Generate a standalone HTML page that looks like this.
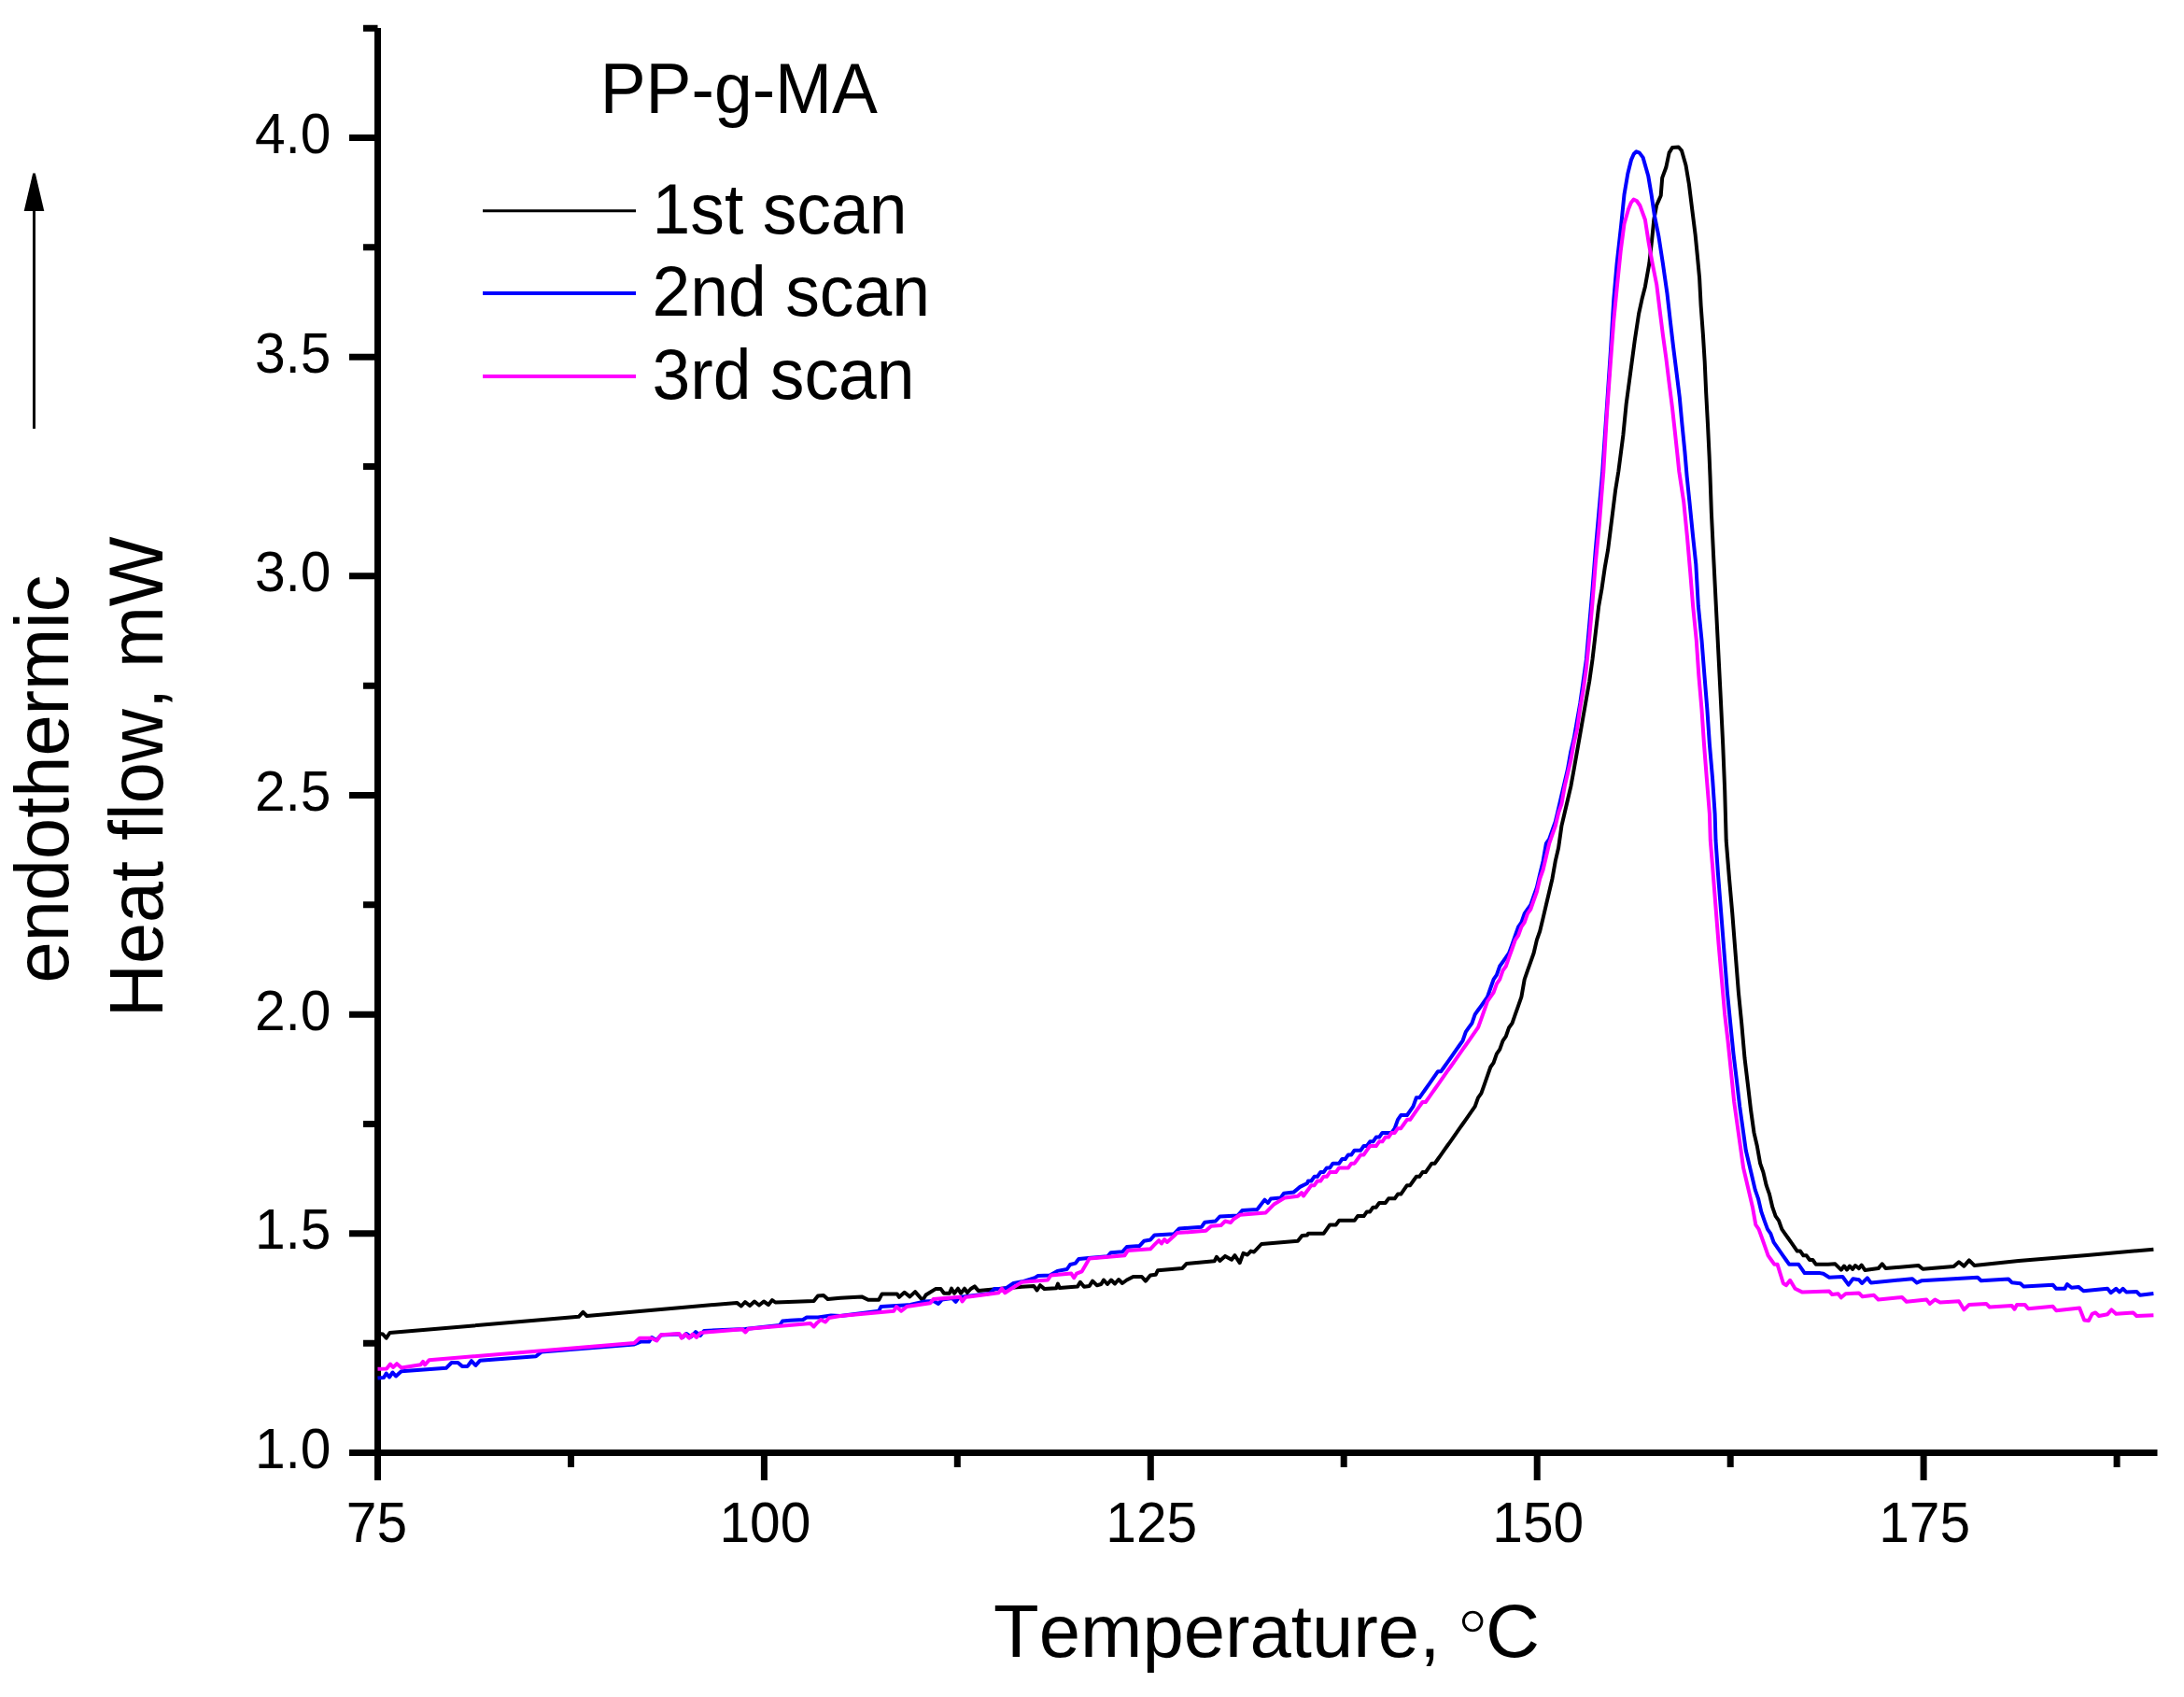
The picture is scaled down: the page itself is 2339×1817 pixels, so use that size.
<!DOCTYPE html>
<html lang="en">
<head>
<meta charset="utf-8">
<title>PP-g-MA DSC heating scans</title>
<style>
html,body{margin:0;padding:0;background:#fff;}
body{width:2339px;height:1817px;overflow:hidden;}
svg{display:block;}
text{font-family:"Liberation Sans",Arial,Helvetica,sans-serif;fill:#000;font-kerning:none;font-variant-ligatures:none;}
.tick{font-size:58.7px;}
.leg{font-size:73.3px;}
.ttl{font-size:80.3px;}
.ax{stroke:#000;stroke-width:7;fill:none;stroke-linecap:butt;}
.cv{fill:none;stroke-width:4;stroke-linejoin:round;stroke-linecap:butt;}
</style>
</head>
<body>
<svg width="2339" height="1817" viewBox="0 0 2339 1817">
<rect x="0" y="0" width="2339" height="1817" fill="#ffffff"/>
<g id="axes">
<path class="ax" d="M404.5,30 V1585"/>
<path class="ax" d="M374,1555.5 H2310.5"/>
<path class="ax" d="M389,1438.2 H404.5 M374,1320.8 H404.5 M389,1203.5 H404.5 M374,1086.2 H404.5 M389,968.8 H404.5 M374,851.5 H404.5 M389,734.2 H404.5 M374,616.8 H404.5 M389,499.5 H404.5 M374,382.2 H404.5 M389,264.8 H404.5 M374,147.5 H404.5 M389,30.2 H404.5"/>
<path class="ax" d="M611.5,1555.5 V1571 M818.4,1555.5 V1585 M1025.3,1555.5 V1571 M1232.3,1555.5 V1585 M1439.2,1555.5 V1571 M1646.2,1555.5 V1585 M1853.2,1555.5 V1571 M2060.1,1555.5 V1585 M2267.1,1555.5 V1571"/>
</g>
<g id="curves">
<polyline class="cv" stroke="#000000" points="404.5,1427.7 410,1428.5 413.7,1432.7 417.5,1427 619.8,1409.8 624.4,1404.8 628.5,1409 789.2,1394.9 793.8,1398.5 798,1394 803,1398 808,1393.5 813,1397.5 818,1393.5 823,1397 827,1392 830.4,1394.5 871.6,1393.1 876,1387.5 882,1386.9 886.5,1391 900,1389.7 922.9,1388.4 929.8,1391.8 941.2,1391.8 944.6,1385.4 960.7,1385.4 963,1388.8 968.7,1383.8 974.4,1388.4 980.1,1383.1 988.1,1392.2 991.6,1386.5 1001.9,1380.1 1007.6,1380.1 1011,1384.7 1016.8,1384.7 1019,1379.7 1022,1384.7 1026,1379.7 1029,1384.7 1033,1379.7 1036,1384 1039.7,1380 1043.8,1377.4 1047.7,1381.9 1094.6,1377.8 1107.2,1376.9 1110.6,1381.5 1114,1376.2 1118.6,1380.1 1131.2,1379.2 1133,1374.6 1134.7,1379 1154.1,1377.4 1156.9,1372.8 1161,1377.8 1166.7,1376.9 1170.1,1371.6 1174.7,1376.2 1179.3,1375 1182,1370.5 1186,1375 1190,1370.5 1194,1374.5 1198,1370 1202,1374 1206.8,1370.5 1213.6,1367 1222.8,1367 1226.9,1371.6 1232,1365.5 1237.7,1364.8 1240,1360.2 1266.3,1357.9 1270.9,1352.9 1300.6,1350.3 1302.9,1345.8 1306.4,1349.9 1312.1,1344.9 1319,1348.7 1322.4,1344.2 1327.7,1352.2 1331.5,1341.9 1336,1343.5 1339.6,1339.6 1343,1340.5 1351,1332 1389.9,1328.8 1394.5,1322.9 1400,1322.4 1401,1320.8 1404.3,1320.8 1407.6,1320.8 1410.9,1320.8 1414.2,1320.8 1417.5,1320.8 1420.9,1316.1 1424.2,1311.4 1427.5,1311.4 1430.8,1311.4 1434.1,1306.8 1437.4,1306.8 1440.7,1306.8 1444,1306.8 1447.3,1306.8 1450.6,1306.8 1454,1302.1 1457.3,1302.1 1460.6,1302.1 1463.9,1297.4 1467.2,1297.4 1470.5,1292.7 1473.8,1292.7 1477.1,1288 1480.4,1288 1483.7,1288 1487.1,1283.3 1490.4,1283.3 1493.7,1283.3 1497,1278.6 1500.3,1278.6 1503.6,1273.9 1506.9,1269.2 1510.2,1269.2 1513.5,1264.5 1516.8,1259.8 1520.2,1259.8 1523.5,1255.1 1526.8,1255.1 1530.1,1250.4 1533.4,1245.7 1536.7,1245.7 1540,1241 1543.3,1236.4 1546.6,1231.7 1549.9,1227 1553.3,1222.3 1556.6,1217.6 1559.9,1212.9 1563.2,1208.2 1566.5,1203.5 1569.8,1198.8 1573.1,1194.1 1576.4,1189.4 1579.7,1184.7 1583,1175.3 1586.4,1170.6 1589.7,1161.3 1593,1151.9 1596.3,1142.5 1599.6,1137.8 1602.9,1128.4 1606.2,1123.7 1609.5,1114.3 1612.8,1109.6 1616.1,1100.2 1619.5,1095.6 1622.8,1086.2 1626.1,1076.8 1629.4,1067.4 1632.7,1048.6 1636,1039.2 1639.3,1029.8 1642.6,1020.5 1645.9,1006.4 1649.2,997 1652.6,982.9 1655.9,968.8 1659.2,954.8 1662.5,940.7 1665.8,921.9 1669.1,907.8 1672.4,884.4 1675.7,870.3 1679,856.2 1682.3,842.1 1685.7,823.3 1689,804.6 1692.3,785.8 1695.6,767 1698.9,748.2 1702.2,729.5 1705.5,706 1708.8,677.8 1712.1,649.7 1715.4,630.9 1718.8,607.4 1722.1,588.7 1726.4,554.5 1730.1,524.8 1733.3,505 1738.4,465.8 1741.7,432.2 1746.2,398.7 1750.7,365.1 1755.1,336 1758.5,320.3 1761.9,306.9 1766.3,282.2 1769.3,255.4 1771.3,235.2 1774.2,219.6 1778.7,209.5 1780.2,190.4 1784.3,179.3 1787.6,163.6 1791,158 1797.7,157.5 1801,161.3 1805.5,177 1808.9,197.2 1812.2,224 1815.6,250.9 1817.8,273.3 1820.1,297.9 1821.6,327 1823.9,358.4 1825.7,387.5 1827.2,421 1829,454.6 1830.6,488.2 1831.5,509.9 1832.9,549.5 1835.3,599 1837.8,648.5 1840.3,698 1842.8,747.5 1845.2,797 1847.2,846.5 1848.7,900 1852,940.7 1855.3,978.2 1858.6,1020.5 1861.9,1062.7 1865.2,1095.6 1868.5,1133.1 1871.9,1161.3 1875.2,1189.4 1878.5,1212.9 1881.8,1227 1885.1,1245.7 1888.4,1255.1 1891.7,1269.2 1895,1278.6 1898.3,1292.7 1901.6,1302.1 1905,1306.8 1908.3,1316.1 1911.6,1320.8 1914.9,1325.5 1918.2,1330.2 1921.5,1334.9 1924.8,1339.6 1928.1,1339.6 1931.4,1344.3 1934.7,1344.3 1938.1,1349 1941.4,1349 1944.7,1353.7 1948,1353.7 1951.3,1353.7 1954.6,1353.7 1957.9,1353.7 1965.4,1353.3 1971.8,1359.7 1975,1355.5 1978,1359.5 1981,1355.5 1984,1359 1987,1355 1990.9,1358.1 1993.7,1354.5 1997.3,1360 2011.6,1358.1 2015.7,1353.3 2019.5,1358.1 2054.5,1354.9 2059.3,1358.7 2092.4,1356 2097.9,1351.2 2103.4,1355.6 2108.9,1349.4 2114.4,1354.9 2161.9,1350.1 2235.1,1343.9 2306.4,1337.7"/>
<polyline class="cv" stroke="#0000ff" points="404.5,1475.5 411,1475 413.7,1470.5 417,1474.5 420.5,1469.5 424,1473.5 429.8,1468.2 477.8,1464.8 483.6,1459 490.4,1459 495,1462.9 500.7,1462.9 504.9,1457.2 509.4,1462 514,1456.8 574,1452.2 579.7,1447.6 679.3,1439.5 686,1436.6 695,1436.6 698,1432 703,1435 708,1429.5 727,1428.5 731,1432 735,1428 740,1431.5 745,1426 750,1430 754,1425 798,1422.9 835,1419 838,1414.5 846.4,1413.7 860,1413 864,1410.5 876.2,1410.5 890,1408.5 900,1409 941.2,1403.7 943.5,1399.1 968.7,1397.5 975,1397 990.4,1393.5 1000,1393 1005,1396 1009,1391.5 1020,1390 1023.6,1393.8 1027,1389 1060,1385 1064.8,1380.1 1071.7,1380.1 1078,1379 1085.4,1373.9 1094.6,1372.3 1108.3,1368.2 1111.8,1365.9 1124.4,1365.5 1132.4,1360.9 1142.7,1359 1146.1,1354 1151.8,1352.6 1155.3,1348.1 1165.6,1347.1 1186.2,1345.3 1189.6,1341.2 1202.2,1340.3 1206.8,1335 1220.5,1333.9 1225.1,1328.8 1232,1327.5 1236.5,1322.4 1257.1,1321.3 1262.9,1315.5 1286.9,1313.7 1290.3,1308.7 1301.8,1307.5 1306.4,1302.5 1325.8,1301.4 1330.4,1296.1 1346.4,1295 1354.4,1284.6 1358,1288 1361,1283.5 1371.6,1282.4 1375,1277.8 1385.3,1276.6 1392.2,1270.9 1400,1267 1401,1264.5 1404.3,1264.5 1407.6,1259.8 1410.9,1259.8 1414.2,1255.1 1417.5,1255.1 1420.9,1250.4 1424.2,1250.4 1427.5,1245.7 1430.8,1245.7 1434.1,1245.7 1437.4,1241 1440.7,1241 1444,1236.4 1447.3,1236.4 1450.6,1231.7 1454,1231.7 1457.3,1231.7 1460.6,1227 1463.9,1227 1467.2,1222.3 1470.5,1222.3 1473.8,1217.6 1477.1,1217.6 1480.4,1212.9 1483.7,1212.9 1487.1,1212.9 1490.4,1212.9 1493.7,1208.2 1497,1198.8 1500.3,1194.1 1503.6,1194.1 1506.9,1194.1 1510.2,1189.4 1513.5,1184.7 1516.8,1175.3 1520.2,1175.3 1523.5,1170.6 1526.8,1166 1530.1,1161.3 1533.4,1156.6 1536.7,1151.9 1540,1147.2 1543.3,1147.2 1546.6,1142.5 1549.9,1137.8 1553.3,1133.1 1556.6,1128.4 1559.9,1123.7 1563.2,1119 1566.5,1114.3 1569.8,1104.9 1573.1,1100.2 1576.4,1095.6 1579.7,1086.2 1583,1081.5 1586.4,1076.8 1589.7,1072.1 1593,1067.4 1596.3,1058 1599.6,1048.6 1602.9,1043.9 1606.2,1034.5 1609.5,1029.8 1612.8,1025.2 1616.1,1020.5 1619.5,1011.1 1622.8,1001.7 1626.1,992.3 1629.4,987.6 1632.7,978.2 1636,973.5 1639.3,968.8 1642.6,959.4 1645.9,950.1 1649.2,936 1652.6,921.9 1655.9,903.1 1659.2,898.4 1662.5,889 1665.8,879.7 1669.1,865.6 1672.4,851.5 1675.7,837.4 1679,823.3 1682.3,804.6 1685.7,790.5 1689,771.7 1692.3,752.9 1695.6,729.5 1698.9,706 1702.2,668.5 1705.5,630.9 1708.8,588.7 1714,529.7 1716.2,505 1720.4,443.4 1724.9,376.3 1728.3,320.3 1731.6,282.2 1736.1,241.9 1739.5,208.4 1743.3,186 1746.9,171.4 1749.7,165 1752.5,162.3 1755.8,163.6 1759.6,168.6 1765.2,188.2 1768.6,208.4 1771.9,230.7 1776.4,253.1 1780.9,282.2 1785.4,313.6 1788.7,342.7 1792.1,371.8 1795.5,398.7 1798.8,425.5 1801.5,454.6 1804.4,483.7 1806.6,509.9 1809.4,537.1 1813.1,574.3 1816.3,604 1818.8,648.5 1822.5,685.6 1825.4,722.8 1828.4,759.9 1830.9,797 1834.1,834.2 1836.6,871.3 1837.5,900 1840,936 1843.3,978.2 1846.6,1020.5 1849.9,1062.7 1853.2,1095.6 1856.5,1128.4 1859.9,1156.6 1863.2,1184.7 1866.5,1208.2 1869.8,1231.7 1873.1,1245.7 1876.4,1259.8 1879.7,1273.9 1883,1283.3 1886.3,1297.4 1889.6,1306.8 1893,1316.1 1896.3,1320.8 1899.6,1330.2 1902.9,1334.9 1906.2,1339.6 1909.5,1344.3 1912.8,1349 1916.1,1353.7 1919.4,1353.7 1922.7,1353.7 1926.1,1353.7 1929.4,1358.4 1932.7,1363.1 1936,1363.1 1939.3,1363.1 1942.6,1363.1 1945.9,1363.1 1949.2,1363.1 1952.7,1363.8 1959.1,1367.7 1973.4,1367 1979.7,1375.6 1984.5,1369.2 1990.9,1370.2 1994.1,1374 1999.8,1368.3 2003.6,1373.4 2048.1,1369.2 2052.9,1373.4 2057.7,1371.3 2118,1367.7 2121.7,1371.3 2151,1369.5 2154.6,1373.2 2163.8,1374.3 2167.4,1377.6 2198.5,1375.7 2202.2,1379.8 2211.3,1379.8 2213.9,1375 2218.6,1378.7 2226,1377.9 2231.4,1382.3 2257.1,1379.8 2260.7,1384.1 2266.2,1379.8 2269.9,1383.4 2273.5,1379.8 2277.2,1383.4 2288.2,1383 2291.8,1386.7 2306.4,1384.9"/>
<polyline class="cv" stroke="#ff00ff" points="404.5,1465.7 414,1465.5 418,1460.5 421,1464 425,1460.2 430,1464.5 450.4,1461.3 453,1457.9 455,1461.3 459.5,1456.3 679.3,1438 685,1432.7 697.6,1432.7 703.3,1435.5 707.9,1429.3 727.4,1428 730,1432.7 734,1428.5 738,1432.7 742,1428.5 746,1432 750.3,1427 795,1423.3 798.4,1426.5 801.5,1422.7 868,1417 871.6,1420.5 875,1416.4 879,1413 884,1415.5 888,1411 900,1409 957.2,1403.7 960,1399.1 965.2,1403.7 971,1399.1 996.2,1395.2 999.6,1391.1 1028.2,1388.8 1030.5,1393.4 1034,1389 1037.4,1388.4 1069.4,1384.2 1072.9,1379.7 1076.3,1384.2 1083.2,1379.7 1094.6,1372.8 1122.1,1370.5 1125.5,1365.5 1147.3,1363.6 1150.2,1368.2 1153,1363.6 1158.7,1361.3 1166.7,1347.6 1204.5,1344.2 1207.9,1338.9 1232,1337.3 1236.5,1332.7 1241.1,1328.1 1244,1331.5 1247,1327 1250,1330 1257.1,1323.6 1260.6,1320.1 1291.5,1317.8 1297.2,1312.8 1307.5,1312.1 1312.1,1307.5 1318,1309 1321.2,1305.2 1328.1,1300.7 1355.6,1298.4 1364.7,1289.2 1376.2,1282.4 1389.9,1280.8 1394,1277 1396,1280.5 1400,1275 1401,1273.9 1404.3,1269.2 1407.6,1269.2 1410.9,1264.5 1414.2,1264.5 1417.5,1259.8 1420.9,1259.8 1424.2,1255.1 1427.5,1255.1 1430.8,1255.1 1434.1,1250.4 1437.4,1250.4 1440.7,1250.4 1444,1250.4 1447.3,1245.7 1450.6,1245.7 1454,1241 1457.3,1236.4 1460.6,1236.4 1463.9,1231.7 1467.2,1227 1470.5,1227 1473.8,1227 1477.1,1222.3 1480.4,1222.3 1483.7,1217.6 1487.1,1217.6 1490.4,1212.9 1493.7,1212.9 1497,1208.2 1500.3,1208.2 1503.6,1203.5 1506.9,1198.8 1510.2,1198.8 1513.5,1194.1 1516.8,1189.4 1520.2,1184.7 1523.5,1180 1526.8,1180 1530.1,1175.3 1533.4,1170.6 1536.7,1166 1540,1161.3 1543.3,1156.6 1546.6,1151.9 1549.9,1147.2 1553.3,1142.5 1556.6,1137.8 1559.9,1133.1 1563.2,1128.4 1566.5,1123.7 1569.8,1119 1573.1,1114.3 1576.4,1109.6 1579.7,1104.9 1583,1100.2 1586.4,1090.9 1589.7,1081.5 1593,1072.1 1596.3,1067.4 1599.6,1062.7 1602.9,1053.3 1606.2,1048.6 1609.5,1039.2 1612.8,1034.5 1616.1,1025.2 1619.5,1015.8 1622.8,1006.4 1626.1,1001.7 1629.4,992.3 1632.7,987.6 1636,978.2 1639.3,973.5 1642.6,964.1 1645.9,954.8 1649.2,940.7 1652.6,931.3 1655.9,917.2 1659.2,903.1 1662.5,893.7 1665.8,884.4 1669.1,870.3 1672.4,860.9 1675.7,842.1 1679,828 1682.3,814 1685.7,795.2 1689,781.1 1692.3,757.6 1695.6,738.9 1698.9,715.4 1702.2,682.5 1705.5,645 1708.8,602.8 1712.8,561.9 1715.3,529.7 1717.3,505 1720.9,443.4 1724.9,387.5 1728.3,342.7 1731.6,309.1 1735.7,268.8 1739.5,239.7 1744,224 1746.8,217 1749.6,213.6 1752.8,215 1756.3,220 1761.9,235.2 1765.7,259.9 1769.7,282.2 1774.2,304.6 1777.5,331.5 1780.9,358.4 1784.3,383 1787.6,409.9 1791,436.7 1793.7,461.3 1796.6,488.2 1798.3,505 1803.2,537.1 1806.9,574.3 1810.1,611.4 1813.1,648.5 1816.8,685.6 1819.3,722.8 1822.5,759.9 1825,797 1827.9,834.2 1830.9,871.3 1831.8,900 1834,926.6 1837.3,968.8 1840.6,1011.1 1843.9,1048.6 1847.2,1086.2 1850.5,1114.3 1853.9,1147.2 1857.2,1180 1860.5,1203.5 1863.8,1227 1867.1,1250.4 1870.4,1264.5 1873.7,1278.6 1877,1292.7 1880.3,1311.4 1883.6,1316.1 1887,1325.5 1890.3,1334.9 1893.6,1344.3 1896.9,1349 1900.2,1353.7 1903.5,1353.7 1909.8,1374 1912.9,1376.2 1917.1,1370.8 1922.5,1379.7 1930.4,1383.6 1959.1,1382.6 1962.2,1386.1 1968.6,1385.2 1971.8,1389.3 1976.6,1385.2 1990.9,1384.5 1994.7,1388.3 2006.8,1386.7 2011.6,1391.5 2037,1389 2041.8,1393.7 2063.2,1391.5 2066.8,1395.9 2072.3,1391.5 2077.8,1394.4 2097.9,1393.3 2103.4,1402.4 2108.9,1396.9 2127.2,1395.9 2130.8,1399.5 2154.6,1398 2157.5,1401.7 2160.1,1396.9 2168.5,1396.9 2172.2,1401.3 2198.5,1398.8 2202.2,1403.2 2227.1,1400.6 2232.2,1413.4 2236.9,1414.1 2240.6,1406.8 2244.2,1405.4 2247.9,1409 2257.1,1407.2 2261.4,1402.4 2266.2,1406.8 2284.5,1405.4 2288.2,1409 2306.4,1408.3"/>
</g>
<g id="ylabels" class="tick" text-anchor="end">
<text transform="translate(354.5,1572) scale(1,1.045)">1.0</text>
<text transform="translate(354.5,1337.3) scale(1,1.045)">1.5</text>
<text transform="translate(354.5,1102.7) scale(1,1.045)">2.0</text>
<text transform="translate(354.5,868) scale(1,1.045)">2.5</text>
<text transform="translate(354.5,633.3) scale(1,1.045)">3.0</text>
<text transform="translate(354.5,398.7) scale(1,1.045)">3.5</text>
<text transform="translate(354.5,164) scale(1,1.045)">4.0</text>
</g>
<g id="xlabels" class="tick" text-anchor="middle">
<text transform="translate(403.5,1651) scale(1,1.045)">75</text>
<text transform="translate(819.4,1651) scale(1,1.045)">100</text>
<text transform="translate(1233.3,1651) scale(1,1.045)">125</text>
<text transform="translate(1647.2,1651) scale(1,1.045)">150</text>
<text transform="translate(2061.1,1651) scale(1,1.045)">175</text>
</g>
<text class="ttl" y="1774"><tspan x="1064" style="font-size:79.7px">Temperature,</tspan><tspan x="1536" dy="9.5" style="font-size:86px;stroke:#fff;stroke-width:1.6px"> °</tspan><tspan x="1591" dy="-9.5">C</tspan></text>
<text class="ttl" style="font-size:79.4px" transform="translate(72.7,834) rotate(-90) scale(1,1.02)" text-anchor="middle">endothermic</text>
<text class="ttl" style="font-size:79.2px" transform="translate(174.2,831.8) rotate(-90) scale(1,1.025)" text-anchor="middle">Heat flow, mW</text>
<g id="arrow"><path d="M36.5,224 V459" stroke="#000" stroke-width="3" fill="none"/><path d="M35.2,185.5 H37.8 L47.3,226 H25.7 Z" fill="#000"/></g>
<g id="legend">
<text class="leg" transform="translate(642.7,121) scale(1,1.025)">PP-g-MA</text>
<path d="M517,225.8 H681" stroke="#000000" stroke-width="3" fill="none"/>
<path d="M517,314 H681" stroke="#0000ff" stroke-width="4" fill="none"/>
<path d="M517,403 H681" stroke="#ff00ff" stroke-width="4" fill="none"/>
<text class="leg" transform="translate(698.5,250) scale(1,1.025)">1st scan</text>
<text class="leg" transform="translate(698.5,338) scale(1,1.025)">2nd scan</text>
<text class="leg" transform="translate(698.5,427) scale(1,1.025)">3rd scan</text>
</g>
</svg>
</body>
</html>
